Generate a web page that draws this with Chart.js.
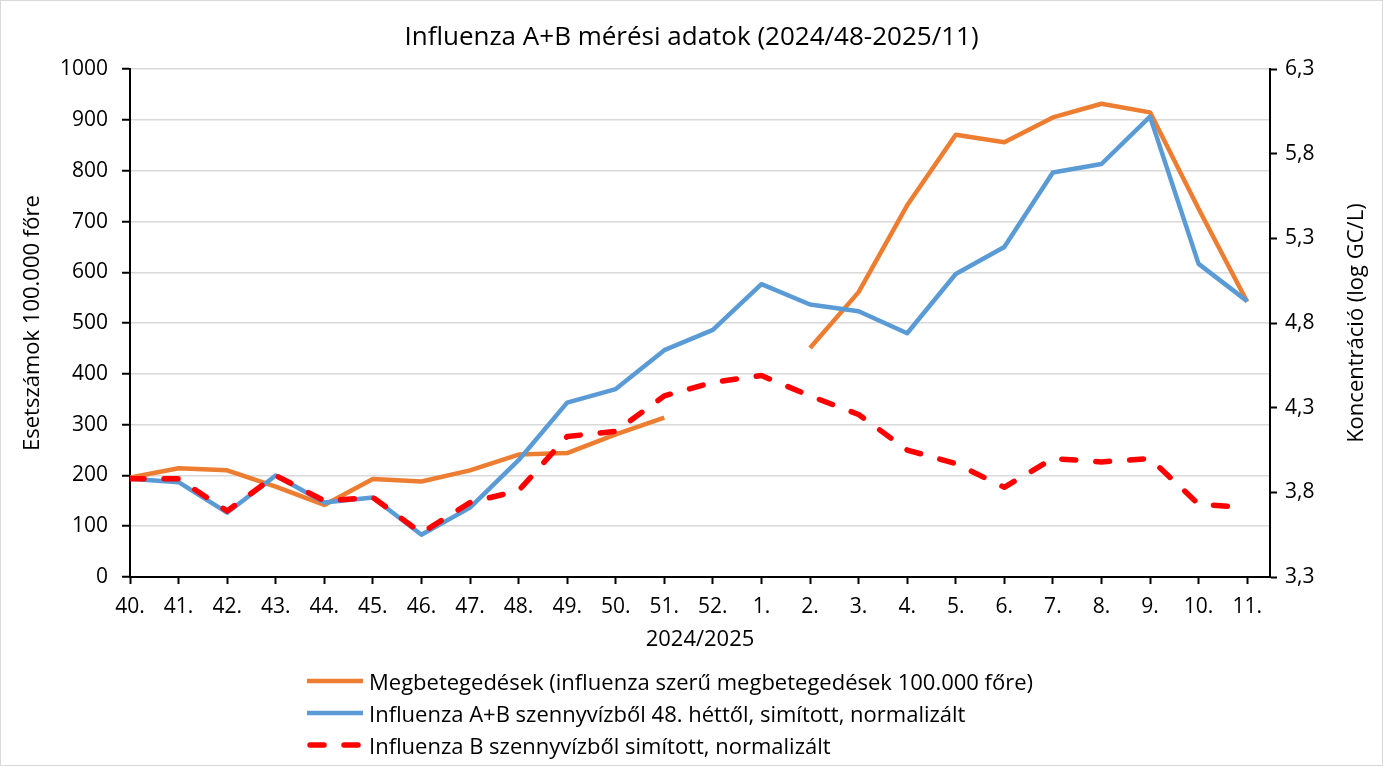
<!DOCTYPE html>
<html lang="hu">
<head>
<meta charset="utf-8">
<title>Influenza A+B mérési adatok</title>
<script src="https://cdn.jsdelivr.net/npm/chart.js@4.4.1/dist/chart.umd.min.js"></script>
<style>
  html, body { margin: 0; padding: 0; background: #fff; }
  #wrap { position: relative; width: 1383px; height: 766px; font-family: 'Open Sans', sans-serif; }
  #frame { position: absolute; left: 0; top: 0; right: 0; bottom: 0; border: 1px solid #d9d9d9; pointer-events: none; }
  #legend { position: absolute; left: 305px; top: 665px; }
  .item { display: flex; align-items: center; height: 32px; font-size: 22px; color: #000; white-space: nowrap; }
  .item svg { margin-right: 4px; }
</style>
</head>
<body>
<div id="wrap">
  <canvas id="chart" width="1383" height="766"></canvas>
  <div id="legend"></div>
  <div id="frame"></div>
</div>
<script>
// hét (2024/40 - 2025/11)
const weeks = ['40.', '41.', '42.', '43.', '44.', '45.', '46.', '47.', '48.', '49.', '50.', '51.', '52.',
  '1.', '2.', '3.', '4.', '5.', '6.', '7.', '8.', '9.', '10.', '11.'];

// megbetegedések 100.000 főre (bal tengely)
const megbetegedesek = [196, 214, 210, 178, 142, 193, 188, 210, 241, 244, 281, 314, null,
  null, 451, 561, 732, 871, 856, 905, 932, 915, 725, 542];

// koncentráció, log GC/L (jobb tengely)
const abSzennyviz = [3.88, 3.86, 3.68, 3.90, 3.74, 3.77, 3.55, 3.71, 3.99, 4.33, 4.41, 4.64, 4.76,
  5.03, 4.91, 4.87, 4.74, 5.09, 5.25, 5.69, 5.74, 6.02, 5.15, 4.93];
const bSzennyviz = [3.88, 3.88, 3.69, 3.90, 3.75, 3.77, 3.56, 3.74, 3.81, 4.13, 4.16, 4.37, 4.45,
  4.49, 4.37, 4.26, 4.05, 3.97, 3.83, 4.00, 3.98, 4.00, 3.73, 3.71];

const leftTicks = { min: 0, max: 1000, step: 100 };
const rightTicks = { min: 3.3, max: 6.3, step: 0.5 };

const FONT = "'Open Sans', sans-serif";
const toPoints = arr => arr.map((v, i) => ({ x: i, y: v }));

const rightTitle = {
  id: 'rightTitle',
  afterDraw(chart) {
    const ctx = chart.ctx;
    const area = chart.chartArea;
    ctx.save();
    ctx.translate(chart.scales.y1.right - 26, (area.top + area.bottom) / 2);
    ctx.rotate(-Math.PI / 2);
    ctx.font = '22px ' + FONT;
    ctx.fillStyle = '#000';
    ctx.textAlign = 'center';
    ctx.textBaseline = 'middle';
    ctx.fillText('Koncentráció (log GC/L)', 0, 0);
    ctx.restore();
  }
};

const chart = new Chart(document.getElementById('chart'), {
  type: 'line',
  data: {
    datasets: [
      {
        label: 'Megbetegedések (influenza szerű megbetegedések 100.000 főre)',
        data: toPoints(megbetegedesek),
        yAxisID: 'y',
        borderColor: '#ED7D31',
        borderWidth: 4.5,
        order: 2
      },
      {
        label: 'Influenza A+B szennyvízből 48. héttől, simított, normalizált',
        data: toPoints(abSzennyviz),
        yAxisID: 'y1',
        borderColor: '#5B9BD5',
        borderWidth: 4.5,
        order: 1
      },
      {
        label: 'Influenza B szennyvízből simított, normalizált',
        data: toPoints(bSzennyviz),
        yAxisID: 'y1',
        borderColor: '#FF0000',
        borderWidth: 5.5,
        borderDash: [14, 20],
        borderCapStyle: 'round',
        order: 0
      }
    ]
  },
  options: {
    responsive: false,
    animation: false,
    devicePixelRatio: 1,
    spanGaps: false,
    elements: {
      point: { radius: 0 },
      line: { tension: 0, fill: false, borderJoinStyle: 'round' }
    },
    layout: { padding: { top: 0, left: 0, right: 0, bottom: 109 } },
    plugins: {
      legend: { display: false },
      tooltip: { enabled: false },
      title: {
        display: true,
        text: 'Influenza A+B mérési adatok (2024/48-2025/11)',
        color: '#000',
        font: { family: FONT, size: 26, weight: 'normal' },
        padding: { top: 22, bottom: 16 }
      }
    },
    scales: {
      x: {
        type: 'linear',
        min: 0,
        max: 23.47,
        bounds: 'data',
        afterFit: s => { s.height = 80; },
        ticks: {
          stepSize: 1,
          includeBounds: false,
          autoSkip: false,
          maxRotation: 0,
          padding: 10,
          color: '#000',
          font: { family: FONT, size: 21 },
          callback: v => weeks[v] ?? ''
        },
        grid: { drawOnChartArea: false, drawTicks: true, tickLength: 7, tickColor: '#000', tickWidth: 2 },
        border: { color: '#000', width: 2 },
        title: {
          display: true,
          text: '2024/2025',
          color: '#000',
          font: { family: FONT, size: 22 },
          padding: { top: 0, bottom: 4 }
        }
      },
      y: {
        position: 'left',
        min: leftTicks.min,
        max: leftTicks.max,
        afterFit: s => { s.width = 130; },
        ticks: {
          stepSize: leftTicks.step,
          padding: 14,
          color: '#000',
          font: { family: FONT, size: 21 },
          callback: v => String(v)
        },
        grid: {
          color: ctx => ctx.tick && ctx.tick.value === 0 ? 'rgba(0,0,0,0)' : '#d9d9d9',
          lineWidth: 1.5,
          drawTicks: true,
          tickLength: 8,
          tickColor: '#000',
          tickWidth: 2
        },
        border: { color: '#000', width: 2 },
        title: {
          display: true,
          text: 'Esetszámok 100.000 főre',
          color: '#000',
          font: { family: FONT, size: 22 },
          padding: { top: 20, bottom: 0 }
        }
      },
      y1: {
        position: 'right',
        min: rightTicks.min,
        max: rightTicks.max,
        afterFit: s => { s.width = 113; },
        ticks: {
          stepSize: rightTicks.step,
          padding: 8,
          color: '#000',
          font: { family: FONT, size: 21 },
          callback: v => v.toFixed(1).replace('.', ',')
        },
        grid: { drawOnChartArea: false, drawTicks: true, tickLength: 7, tickColor: '#000', tickWidth: 2 },
        border: { color: '#000', width: 2 }
      }
    }
  },
  plugins: [rightTitle]
});

function buildLegend() {
  const box = document.getElementById('legend');
  box.innerHTML = '';
  chart.data.datasets.forEach(ds => {
    const dash = ds.borderDash ? `stroke-dasharray="${ds.borderDash.join(' ')}"` : '';
    const cap = ds.borderCapStyle === 'round' ? 'round' : 'butt';
    const row = document.createElement('div');
    row.className = 'item';
    row.innerHTML = `
      <svg width="60" height="12"><line x1="${cap === 'round' ? 5 : 2}" y1="6" x2="58" y2="6"
        stroke="${ds.borderColor}" stroke-width="${ds.borderWidth}" stroke-linecap="${cap}" ${dash}/></svg>
      <span>${ds.label}</span>
    `;
    box.appendChild(row);
  });
}
buildLegend();
</script>
</body>
</html>
